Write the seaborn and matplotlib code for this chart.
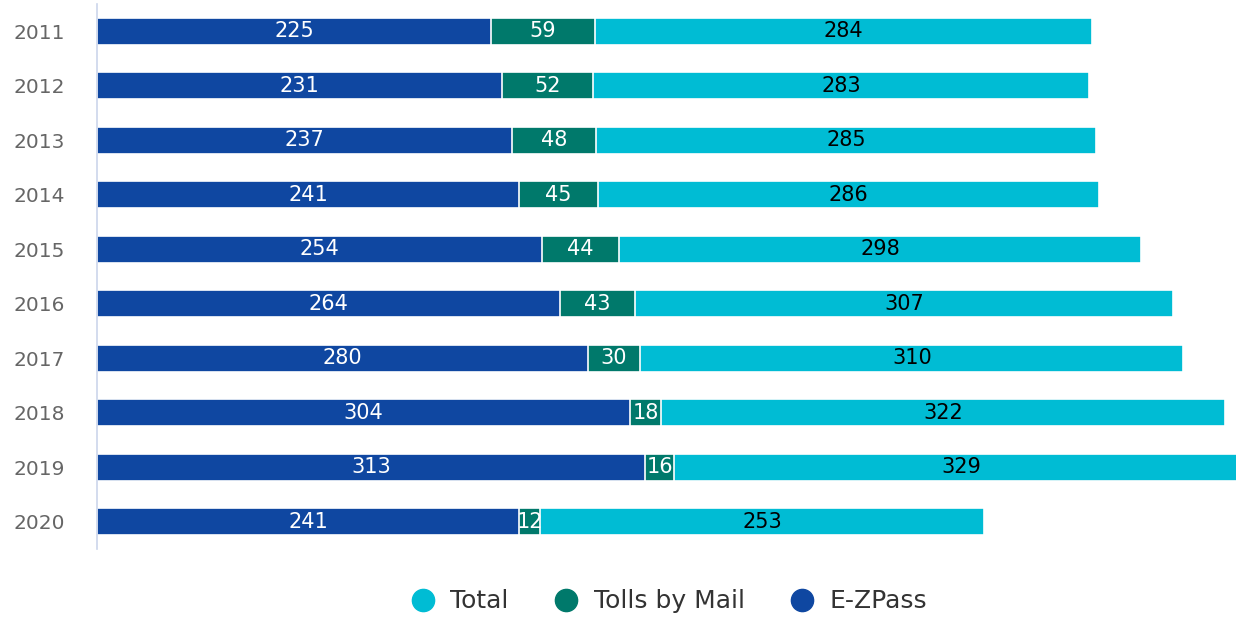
import numpy as np
import matplotlib.pyplot as plt
import seaborn as sns
from matplotlib.lines import Line2D

# data
years = ["2011", "2012", "2013", "2014", "2015", "2016", "2017", "2018", "2019", "2020"]
ezpass = [225, 231, 237, 241, 254, 264, 280, 304, 313, 241]
tolls_by_mail = [59, 52, 48, 45, 44, 43, 30, 18, 16, 12]
total = [284, 283, 285, 286, 298, 307, 310, 322, 329, 253]

c_ez = "#0f47a1"
c_mail = "#00796b"
c_total = "#00bcd4"

sns.set_theme(style="white")
plt.rcParams['font.family'] = ['DejaVu Sans']

fig = plt.figure(figsize=(12.36, 6.18), dpi=100)
ax = fig.add_axes([0.0785, 0.1117, 0.9215, 0.8818])

ez = np.array(ezpass)
mail = np.array(tolls_by_mail)
tot = np.array(total)

# stacked by layering cumulative bars, widest first
for vals, col in [(ez + mail + tot, c_total), (ez + mail, c_mail), (ez, c_ez)]:
    sns.barplot(x=vals, y=years, orient="h", color=col, width=0.49,
                edgecolor="white", linewidth=1.2, saturation=1, ax=ax)

# labels in segment centers
for i in range(len(years)):
    ax.text(ez[i] / 2, i, str(ez[i]), ha="center", va="center", color="white", fontsize=15)
    ax.text(ez[i] + mail[i] / 2, i, str(mail[i]), ha="center", va="center", color="white", fontsize=15)
    ax.text(ez[i] + mail[i] + tot[i] / 2, i, str(tot[i]), ha="center", va="center", color="black", fontsize=15)

ax.set_xlim(0, 650)
ax.set_ylim(9.5, -0.5)
ax.set_xlabel("")
ax.set_ylabel("")
ax.set_xticks([])
ax.tick_params(axis="y", length=0, labelsize=14.5, labelcolor="#666666", pad=23)
for s in ["top", "right", "bottom"]:
    ax.spines[s].set_visible(False)
ax.spines["left"].set_color("#ccd6eb")
ax.spines["left"].set_linewidth(1.2)

handles = [Line2D([], [], marker="o", linestyle="", markersize=16, color=c) for c in [c_total, c_mail, c_ez]]
fig.legend(handles, ["Total", "Tolls by Mail", "E-ZPass"], loc="center", bbox_to_anchor=(0.541, 0.027),
           ncol=3, frameon=False, fontsize=18, handlelength=1.0, handletextpad=0.6, columnspacing=1.8,
           labelcolor="#333333")

fig.savefig("out.png", dpi=100)
